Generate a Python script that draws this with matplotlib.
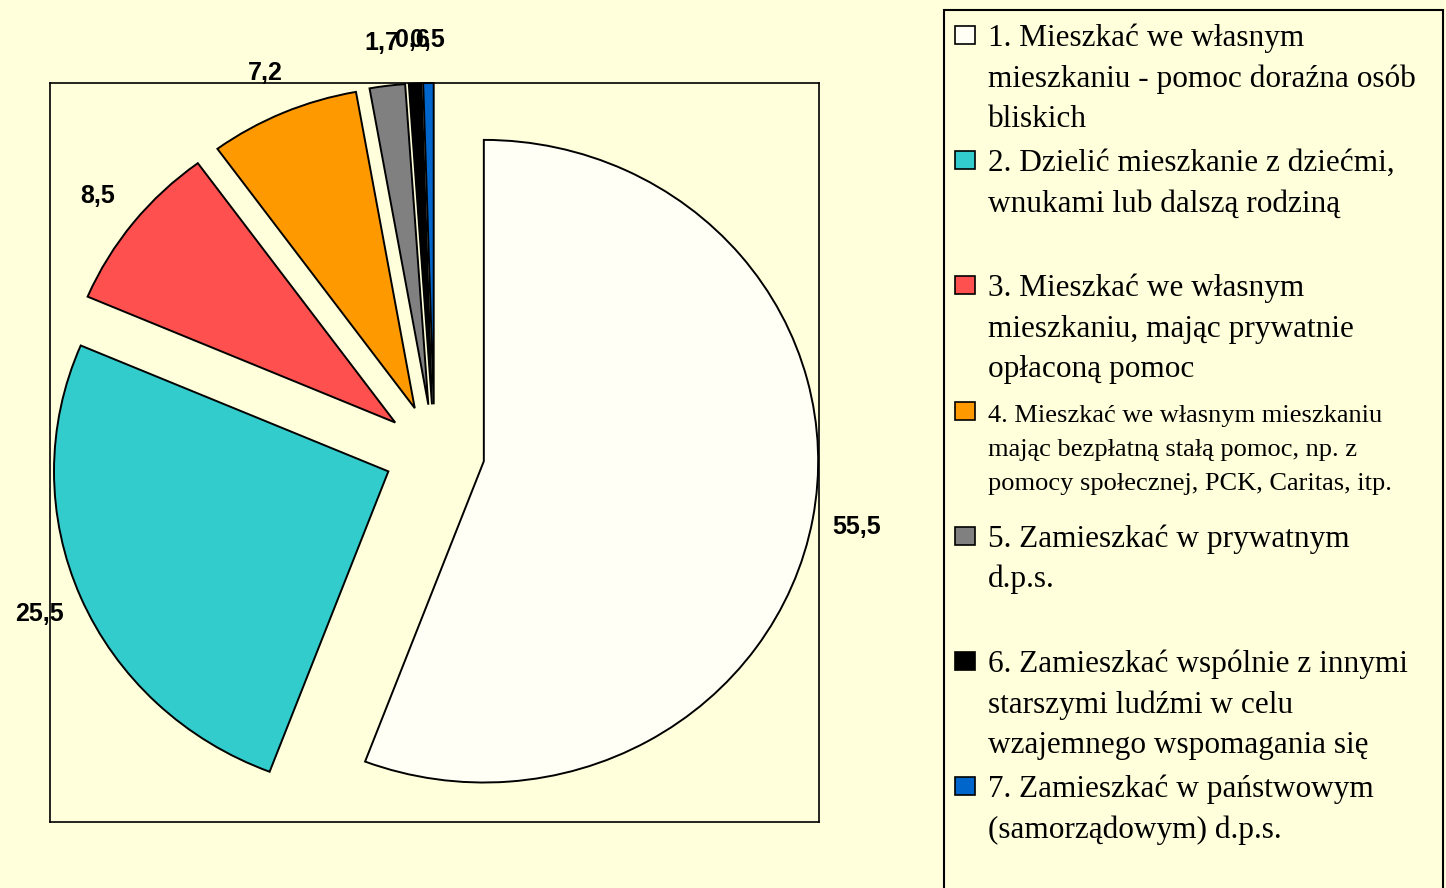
import matplotlib.pyplot as plt
from matplotlib.patches import Rectangle

values = [55.5, 25.5, 8.5, 7.2, 1.7, 0.6, 0.5]
labels = [
    "1. Mieszkać we własnym\nmieszkaniu - pomoc doraźna osób\nbliskich",
    "2. Dzielić mieszkanie z dziećmi,\nwnukami lub dalszą rodziną",
    "3. Mieszkać we własnym\nmieszkaniu, mając prywatnie\nopłaconą pomoc",
    "4. Mieszkać we własnym mieszkaniu\nmając bezpłatną stałą pomoc, np. z\npomocy społecznej, PCK, Caritas, itp.",
    "5. Zamieszkać w prywatnym\nd.p.s.",
    "6. Zamieszkać wspólnie z innymi\nstarszymi ludźmi w celu\nwzajemnego wspomagania się",
    "7. Zamieszkać w państwowym\n(samorządowym) d.p.s.",
]
colors = ["#FFFFF5", "#33CCCC", "#FF5050", "#FF9900", "#808080", "#000000", "#0066CC"]

bg = "#FFFFDC"
W, H = 1446, 888

fig = plt.figure(figsize=(W / 100, H / 100), dpi=100, facecolor=bg)

# plot area (pixel box 50..819 x 83..822)
ax = fig.add_axes([50 / W, (H - 822) / H, 769 / W, 739 / H])
ax.set_facecolor(bg)

total = sum(values)
wedges, texts, autotexts = ax.pie(
    values,
    colors=colors,
    startangle=90,
    counterclock=False,
    explode=[0.15] * len(values),
    radius=1,
    autopct=lambda p: f"{p * total / 100:.1f}".replace(".", ","),
    pctdistance=1.135,
    wedgeprops=dict(edgecolor="black", linewidth=1.4),
    textprops=dict(fontsize=18, fontweight="bold", family="Liberation Sans"),
    frame=True,
)
ax.set_aspect("auto")
ax.set_xlim(-1.15, 1.15)
ax.set_ylim(-1.15, 1.15)
ax.set_xticks([])
ax.set_yticks([])
for t in autotexts:
    t.set_clip_on(False)
for s in ax.spines.values():
    s.set_linewidth(1.2)
    s.set_color("black")

# legend box
fig.patches.append(Rectangle((944 / W, -0.01), (1443 - 944) / W, (H - 10) / H + 0.01,
                             transform=fig.transFigure, facecolor=bg, edgecolor="black",
                             linewidth=1.5, zorder=0))

for k, lab in enumerate(labels):
    base = 46 + 125.2 * k
    fig.patches.append(Rectangle((955 / W, 1 - (base - 2) / H), 20 / W, 18 / H,
                                 transform=fig.transFigure,
                                 facecolor=wedges[k].get_facecolor(),
                                 edgecolor="black", linewidth=1.2))
    size = 19 if k == 3 else 22.5
    step = 34 if k == 3 else 40.5
    for j, line in enumerate(lab.split("\n")):
        fig.text(988 / W, 1 - (base + j * step) / H, line, ha="left", va="baseline",
                 family="Liberation Serif", fontsize=size)

fig.savefig("out.png", dpi=100, facecolor=bg)
